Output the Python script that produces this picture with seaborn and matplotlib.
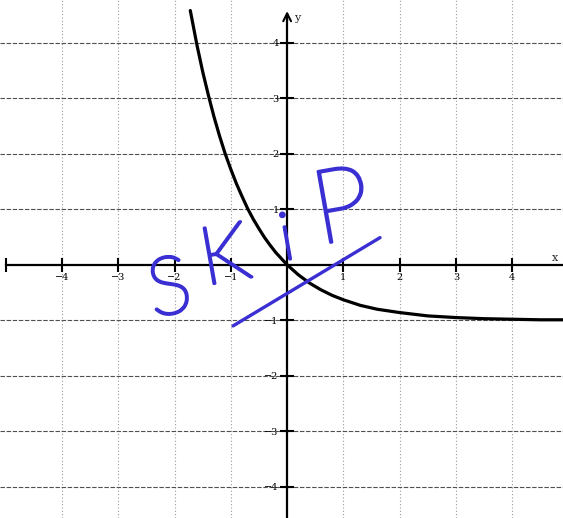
import numpy as np
import matplotlib
matplotlib.use("Agg")
import matplotlib.pyplot as plt
import matplotlib.patheffects as pe
import seaborn as sns

# Points along the curve y = e^(-x) - 1
curve_x = [-1.72, -1.6, -1.5, -1.4, -1.3, -1.2, -1.1, -1.0, -0.9, -0.8, -0.7,
           -0.6, -0.5, -0.4, -0.3, -0.2, -0.1, 0.0, 0.2, 0.4, 0.6, 0.8, 1.0,
           1.3, 1.6, 2.0, 2.5, 3.0, 3.5, 4.0, 4.5, 4.9]
curve_y = [4.58, 3.95, 3.48, 3.06, 2.67, 2.32, 2.00, 1.72, 1.46, 1.23, 1.01,
           0.82, 0.65, 0.49, 0.35, 0.22, 0.11, 0.00, -0.18, -0.33, -0.45, -0.55,
           -0.63, -0.73, -0.80, -0.86, -0.92, -0.95, -0.97, -0.98, -0.99, -0.99]

# Pen stroke across the graph
stroke_x = [-0.96, 1.65]
stroke_y = [-1.10, 0.49]

# Handwritten note, one letter at a time
note_letters = ["S", "K", "i", "P"]
note_x = [-2.08, -1.10, 0.00, 0.98]
note_y = [-0.48, 0.10, 0.42, 0.95]
note_size = [58, 58, 48, 74]

x_ticks = [-4, -3, -2, -1, 1, 2, 3, 4]
x_tick_labels = ["\u22124", "\u22123", "\u22122", "\u22121", "1", "2", "3", "4"]
y_ticks = [-4, -3, -2, -1, 1, 2, 3, 4]
y_tick_labels = ["\u22124", "\u22123", "\u22122", "\u22121", "1", "2", "3", "4"]

sns.set_theme(style="white")
plt.rcParams["font.family"] = ["DejaVu Serif"]

fig = plt.figure(figsize=(5.63, 5.18), dpi=100)
ax = fig.add_axes([0, 0, 1, 1])

ax.set_xlim(-5.10, 4.90)
ax.set_ylim(-4.56, 4.77)

# grid: dashed horizontals, faint dotted verticals
for t in x_ticks:
    ax.axvline(t, color="#9a9a9a", lw=0.8, ls=(0, (1, 2)), zorder=0)
for t in y_ticks:
    ax.axhline(t, color="#505050", lw=0.8, ls=(0, (4, 1.5)), zorder=0)

# axes through the origin
for s in ["top", "right"]:
    ax.spines[s].set_visible(False)
ax.spines["left"].set_position(("data", 0))
ax.spines["bottom"].set_position(("data", 0))
ax.spines["left"].set_linewidth(1.6)
ax.spines["bottom"].set_linewidth(1.6)
ax.spines["left"].set_color("black")
ax.spines["bottom"].set_color("black")
ax.spines["bottom"].set_bounds(-5, 4.9)
ax.spines["left"].set_bounds(-4.56, 4.5)

ax.set_xticks([-5] + x_ticks)
ax.set_xticklabels([""] + x_tick_labels, fontsize=7)
ax.set_yticks(y_ticks)
ax.set_yticklabels(y_tick_labels, fontsize=7)
ax.tick_params(axis="x", direction="inout", length=10, width=1.5, pad=1,
               colors="black", bottom=True)
ax.tick_params(axis="y", direction="inout", length=10, width=1.5, pad=1,
               colors="black", left=True)

# arrow on the y axis and axis names
ax.annotate("", xy=(0, 4.62), xytext=(0, 4.35),
            arrowprops=dict(arrowstyle="->", lw=1.5, color="black",
                            mutation_scale=14))
ax.text(0.12, 4.45, "y", fontsize=8, ha="left", va="center")
ax.text(4.70, 0.12, "x", fontsize=8, ha="left", va="center")

sns.lineplot(x=curve_x, y=curve_y, sort=False, color="black", lw=2.3,
             ax=ax, zorder=3)

pen = "#3a2fd2"
sns.lineplot(x=stroke_x, y=stroke_y, sort=False, color=pen, lw=2.4,
             ax=ax, zorder=4)
for ch, lx, ly, fs in zip(note_letters, note_x, note_y, note_size):
    ax.text(lx, ly, ch, color=pen, fontsize=fs, rotation=10,
            family=["Lato", "DejaVu Sans"], fontweight="light",
            ha="center", va="center", zorder=4,
            path_effects=[pe.withStroke(linewidth=2.2, foreground=pen)])

fig.savefig("out.png", dpi=100)
